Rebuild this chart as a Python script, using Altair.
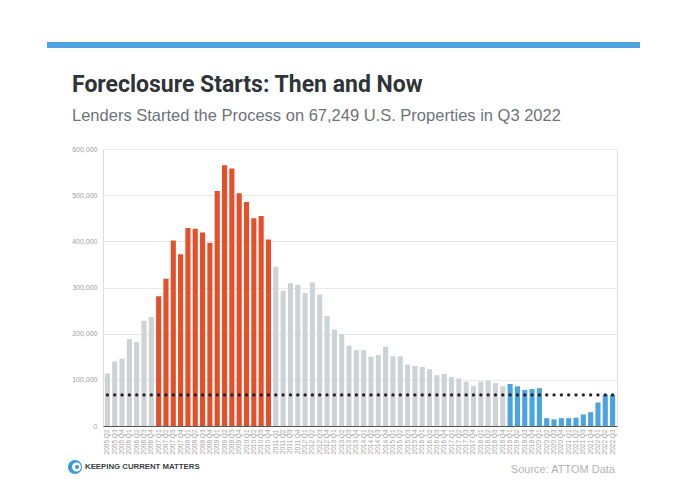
import altair as alt
import pandas as pd

quarters = [
    "2005 Q2", "2005 Q3", "2005 Q4",
    "2006 Q1", "2006 Q2", "2006 Q3", "2006 Q4",
    "2007 Q1", "2007 Q2", "2007 Q3", "2007 Q4",
    "2008 Q1", "2008 Q2", "2008 Q3", "2008 Q4",
    "2009 Q1", "2009 Q2", "2009 Q3", "2009 Q4",
    "2010 Q1", "2010 Q2", "2010 Q3", "2010 Q4",
    "2011 Q1", "2011 Q2", "2011 Q3", "2011 Q4",
    "2012 Q1", "2012 Q2", "2012 Q3", "2012 Q4",
    "2013 Q1", "2013 Q2", "2013 Q3", "2013 Q4",
    "2014 Q1", "2014 Q2", "2014 Q3", "2014 Q4",
    "2015 Q1", "2015 Q2", "2015 Q3", "2015 Q4",
    "2016 Q1", "2016 Q2", "2016 Q3", "2016 Q4",
    "2017 Q1", "2017 Q2", "2017 Q3", "2017 Q4",
    "2018 Q1", "2018 Q2", "2018 Q3", "2018 Q4",
    "2019 Q1", "2019 Q2", "2019 Q3", "2019 Q4",
    "2020 Q1", "2020 Q2", "2020 Q3", "2020 Q4",
    "2021 Q1", "2021 Q2", "2021 Q3", "2021 Q4",
    "2022 Q1", "2022 Q2", "2022 Q3",
]

starts = [
    114000, 140000, 146000,
    188000, 182000, 228000, 236000,
    281000, 319000, 402000, 372000,
    429000, 427000, 419000, 397000,
    509000, 565000, 558000, 504000,
    485000, 450000, 455000, 404000,
    345000, 293000, 309000, 306000,
    288000, 311000, 285000, 238000,
    209000, 199000, 174000, 164000,
    164000, 150000, 154000, 172000,
    151000, 151000, 133000, 130000,
    128000, 123000, 110000, 113000,
    106000, 103000, 96000, 87000,
    96000, 98000, 93000, 86000,
    91000, 86000, 78000, 80000,
    82000, 17000, 14500, 17000,
    17000, 18000, 25000, 30000,
    51000, 68000, 67249,
]

y_ticks = [0, 100000, 200000, 300000, 400000, 500000, 600000]

group_names = ["before", "crisis", "between", "recent"]
group_counts = [7, 16, 32, 15]
group_colors = ["#cdd2d6", "#e5502b", "#cdd2d6", "#4ba4e1"]

current_level = 67249

groups = []
for name, n in zip(group_names, group_counts):
    groups += [name] * n

df = pd.DataFrame({
    "quarter": quarters,
    "starts": starts,
    "group": groups,
    "current": [current_level] * len(quarters),
})

FONT = "Liberation Sans"

x_enc = alt.X(
    "quarter:N",
    sort=quarters,
    scale=alt.Scale(paddingInner=0.3, paddingOuter=0.25),
    axis=alt.Axis(
        title=None, labelAngle=270, labelFontSize=6.5, labelColor="#a0a0a0",
        ticks=False, domainColor="#555555", domainWidth=1, labelPadding=3,
        labelFont=FONT,
    ),
)

bars = alt.Chart(df).mark_bar().encode(
    x=x_enc,
    y=alt.Y(
        "starts:Q",
        scale=alt.Scale(domain=[0, 600000], nice=False),
        axis=alt.Axis(
            title=None, values=y_ticks,
            format=",.0f", labelFontSize=7, labelColor="#a0a0a0", labelFont=FONT,
            ticks=False, domain=False, grid=True, gridColor="#e8e8e8",
            labelPadding=6,
        ),
    ),
    color=alt.Color(
        "group:N",
        scale=alt.Scale(domain=group_names, range=group_colors),
        legend=None,
    ),
)

dots = alt.Chart(df).mark_circle(size=11, color="#222222", opacity=1).encode(
    x=alt.X("quarter:N", sort=quarters),
    y=alt.Y("current:Q"),
)

# decorations (positions relative to plot origin)
stripe = alt.Chart(pd.DataFrame({"a": [0]})).mark_rect(color="#4ea3e0").encode(
    x=alt.value(-56), x2=alt.value(537), y=alt.value(-107), y2=alt.value(-101)
)

title = alt.Chart(pd.DataFrame({"t": ["Foreclosure Starts: Then and Now"]})).mark_text(
    align="left", baseline="alphabetic",
    font="Roboto", fontSize=23, fontWeight="bold", color="#2f3438",
).encode(text="t:N", x=alt.value(-31), y=alt.value(-57))

subtitle = alt.Chart(pd.DataFrame({"t": ["Lenders Started the Process on 67,249 U.S. Properties in Q3 2022"]})).mark_text(
    align="left", baseline="alphabetic", font=FONT, fontSize=16.5, color="#6e7378",
).encode(text="t:N", x=alt.value(-31), y=alt.value(-28))

logo_outer = alt.Chart(pd.DataFrame({"a": [0]})).mark_circle(size=200, color="#3a9ad9", opacity=1).encode(
    x=alt.value(-28), y=alt.value(318)
)
logo_inner = alt.Chart(pd.DataFrame({"a": [0]})).mark_circle(size=80, color="white", opacity=1).encode(
    x=alt.value(-26.5), y=alt.value(318)
)
logo_dot = alt.Chart(pd.DataFrame({"a": [0]})).mark_circle(size=18, color="#3a9ad9", opacity=1).encode(
    x=alt.value(-26), y=alt.value(318)
)

brand = alt.Chart(pd.DataFrame({"t": ["KEEPING CURRENT MATTERS"]})).mark_text(
    align="left", baseline="middle", font=FONT, fontSize=7.8, fontWeight="bold",
    color="#3a3f44",
).encode(text="t:N", x=alt.value(-18), y=alt.value(318))

source = alt.Chart(pd.DataFrame({"t": ["Source: ATTOM Data"]})).mark_text(
    align="right", baseline="alphabetic", font=FONT, fontSize=11, color="#b3b3b3",
).encode(text="t:N", x=alt.value(512), y=alt.value(324))

chart = alt.layer(
    bars, dots, stripe, title, subtitle, logo_outer, logo_inner, logo_dot, brand, source
).properties(
    width=514, height=277,
    autosize=alt.AutoSizeParams(type="none"),
    padding={"left": 95, "top": 141, "right": 55, "bottom": 50},
).configure_view(stroke=None).configure(background="white")

chart.save("out.html", embed_options={"renderer": "svg", "actions": False})
